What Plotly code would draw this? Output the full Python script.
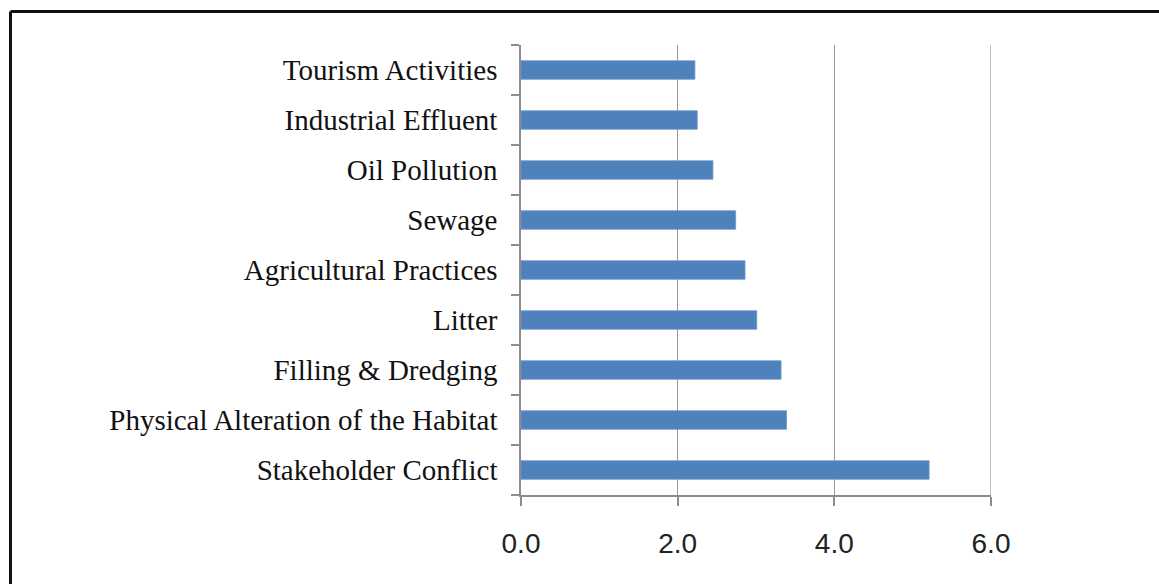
import plotly.graph_objects as go

# Categories listed bottom-to-top
categories = [
    "Stakeholder Conflict",
    "Physical Alteration of the Habitat",
    "Filling & Dredging",
    "Litter",
    "Agricultural Practices",
    "Sewage",
    "Oil Pollution",
    "Industrial Effluent",
    "Tourism Activities",
]
values = [5.21, 3.39, 3.32, 3.01, 2.86, 2.74, 2.45, 2.25, 2.22]
x_ticks = [0, 2, 4, 6]
x_tick_labels = ["0.0", "2.0", "4.0", "6.0"]

W, H = 1159, 584
L, R, T, B = 521, 168, 45, 89
pw, ph = W - L - R, H - T - B

fig = go.Figure(go.Bar(
    x=values, y=categories, orientation="h",
    marker=dict(color="#4F81BD", line=dict(color="#6F97CC", width=0.8)),
    width=0.37,
))

def px_to_paper_x(px):
    return (px - L) / pw

def py_to_paper_y(py):
    return (H - B - py) / ph

xl = px_to_paper_x(10.5)
yt = py_to_paper_y(11.5)
frame = dict(color="#111111", width=3)
shapes = [
    dict(type="line", xref="paper", yref="paper", x0=xl, x1=xl,
         y0=py_to_paper_y(600), y1=yt, line=frame),
    dict(type="line", xref="paper", yref="paper", x0=xl, x1=px_to_paper_x(1170),
         y0=yt, y1=yt, line=frame),
    # gridline at the last tick (range edge), which plotly does not draw itself
    dict(type="line", xref="x", yref="paper", x0=x_ticks[-1], x1=x_ticks[-1],
         y0=0, y1=1, line=dict(color="#9a9a9a", width=1.2), layer="below"),
]

fig.update_layout(
    width=W, height=H,
    margin=dict(l=L, r=R, t=T, b=B, pad=0),
    paper_bgcolor="white", plot_bgcolor="white",
    showlegend=False,
    shapes=shapes,
    xaxis=dict(
        range=[0, 6], tickvals=x_ticks, ticktext=x_tick_labels,
        showgrid=True, gridcolor="#9a9a9a", gridwidth=1.2,
        showline=True, linecolor="#8c8c8c", linewidth=1.5,
        ticks="outside", ticklen=9, tickcolor="#8c8c8c", tickwidth=1.5,
        tickfont=dict(family="Liberation Sans, Arial", size=28, color="#222222"),
        ticklabelstandoff=14,
        zeroline=False, fixedrange=True,
    ),
    yaxis=dict(
        type="category", categoryorder="array", categoryarray=categories,
        showgrid=False,
        showline=True, linecolor="#8c8c8c", linewidth=1.5,
        ticks="outside", tickson="boundaries", ticklen=8,
        tickcolor="#8c8c8c", tickwidth=1.5,
        tickfont=dict(family="Liberation Serif, Times New Roman", size=29, color="#111111"),
        ticklabelstandoff=16,
        fixedrange=True,
    ),
)

fig.write_html("out.html", config={"displayModeBar": False})
